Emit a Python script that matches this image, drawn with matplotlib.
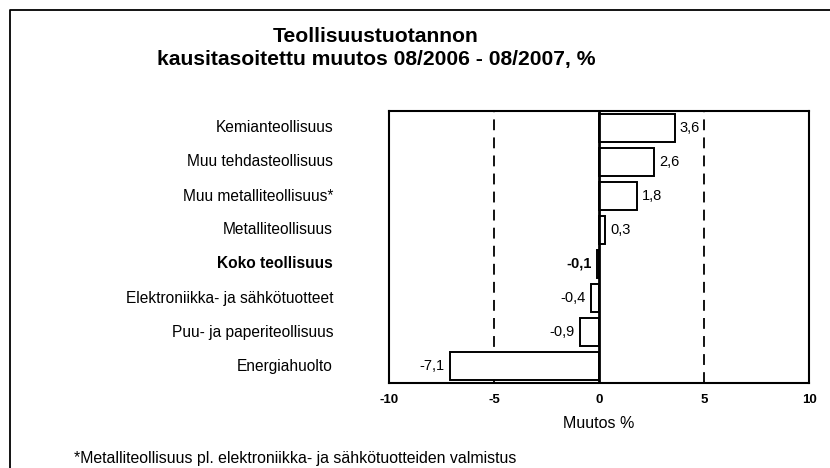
import matplotlib
matplotlib.use("Agg")
import matplotlib.pyplot as plt
from matplotlib.lines import Line2D

plt.rcParams['font.family'] = ['Liberation Sans', 'DejaVu Sans']

categories = [
    "Kemianteollisuus",
    "Muu tehdasteollisuus",
    "Muu metalliteollisuus*",
    "Metalliteollisuus",
    "Koko teollisuus",
    "Elektroniikka- ja sähkötuotteet",
    "Puu- ja paperiteollisuus",
    "Energiahuolto",
]
values = [3.6, 2.6, 1.8, 0.3, -0.1, -0.4, -0.9, -7.1]
bold_rows = ["Koko teollisuus"]
x_ticks = [-10, -5, 0, 5, 10]
ref_lines = [-5, 5]

W, H = 830, 468
fig = plt.figure(figsize=(W / 100, H / 100), dpi=100)
fig.patch.set_facecolor('white')

# plot box in pixel coords (left, top, right, bottom)
L, T, R, B = 389, 111, 809, 383
ax = fig.add_axes([L / W, 1 - B / H, (R - L) / W, (B - T) / H])

ypos = list(range(len(categories)))
ax.barh(ypos, values, height=0.8, color='white', edgecolor='black', linewidth=1.4, zorder=3)
ax.set_xlim(-10, 10)
ax.set_ylim(len(categories) - 0.5, -0.5)

for xv in ref_lines:
    ax.axvline(xv, color='black', linestyle=(0, (6, 4)), linewidth=1.3, zorder=1)
ax.axvline(0, color='black', linewidth=2, zorder=4)

for i, (cat, v) in enumerate(zip(categories, values)):
    weight = 'bold' if cat in bold_rows else 'normal'
    lab = f"{v:.1f}".replace('.', ',')
    if v >= 0:
        ax.text(v + 0.25, i, lab, ha='left', va='center', fontsize=10.5, fontweight=weight)
    else:
        ax.text(v - 0.25, i, lab, ha='right', va='center', fontsize=10.5, fontweight=weight)
    fig.text(333 / W, 1 - (T + (i + 0.5) * (B - T) / len(categories)) / H, cat,
             ha='right', va='center', fontsize=11.2, fontweight=weight)

ax.set_yticks([])
ax.set_xticks(x_ticks)
ax.set_xticklabels([str(t) for t in x_ticks], fontsize=9.5, fontweight='bold')
ax.tick_params(axis='x', length=0, pad=8)
for s in ax.spines.values():
    s.set_linewidth(1.5)
    s.set_color('black')
ax.set_xlabel("Muutos %", fontsize=11.5, labelpad=7)

fig.text(376 / W, 1 - 37 / H, "Teollisuustuotannon",
         ha='center', va='center', fontsize=15.2, fontweight='bold')
fig.text(376 / W, 1 - 60 / H, "kausitasoitettu muutos 08/2006 - 08/2007, %",
         ha='center', va='center', fontsize=15.2, fontweight='bold')

fig.text(74 / W, 1 - 458 / H,
         "*Metalliteollisuus pl. elektroniikka- ja sähkötuotteiden valmistus",
         ha='left', va='center', fontsize=11.4)

# outer frame (left and top only)
fig.add_artist(Line2D([10 / W, 10 / W, 1.0], [0.0, 1 - 10 / H, 1 - 10 / H],
                      transform=fig.transFigure, color='black', linewidth=1.3))

fig.savefig("out.png", dpi=100)
